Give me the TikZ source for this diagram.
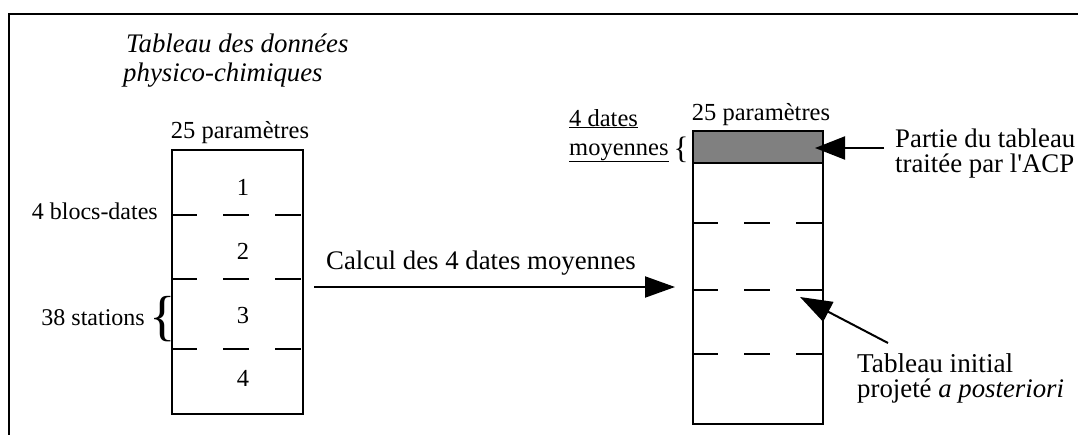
\documentclass[tikz,border=0pt]{standalone}
\usepackage{fontspec}
\setmainfont{Liberation Serif}
\usetikzlibrary{arrows.meta}
\begin{document}
\begin{tikzpicture}[x=1pt,y=-1pt,
  lbl/.style={inner sep=0pt, font=\fontsize{26.8}{30}\selectfont},
  small/.style={inner sep=0pt, font=\fontsize{24.5}{30}\selectfont},
  tbl/.style={draw, line width=2pt, inner sep=0pt},
  sep/.style={line width=2pt, dash pattern=on 26pt off 26pt},
  arr/.style={line width=2pt, -{Triangle[length=30pt,width=21pt]}},
  brace/.style={inner sep=0pt},
]
\useasboundingbox (0,0) rectangle (1078,434);
% frame (cropped)
\draw[line width=2.5pt] (9,440) -- (9,14) -- (1085,14);

% title
\node[lbl, anchor=base west, font=\fontsize{26.8}{30}\selectfont\itshape] (t1) at (126,52) {Tableau des données};
\node[lbl, anchor=base west, font=\fontsize{26.8}{30}\selectfont\itshape] (t2) at (123,81) {physico-chimiques};

% left table
\node[tbl, minimum width=131pt, minimum height=264pt] (L) at (237.5,282) {};
\node[small, anchor=base] (pL) at (240,138) {25 paramètres};
\draw[sep] (L.west |- 0,215) -- (L.east |- 0,215);
\draw[sep] (L.west |- 0,279) -- (L.east |- 0,279);
\draw[sep] (L.west |- 0,349) -- (L.east |- 0,349);
\node[small, anchor=base] (n1) at (243,195) {1};
\node[small, anchor=base] (n2) at (243,259) {2};
\node[small, anchor=base] (n3) at (243,323) {3};
\node[small, anchor=base] (n4) at (243,386) {4};
\node[small, anchor=base east, font=\fontsize{24}{30}\selectfont] (blocs) at (158,219) {4 blocs-dates};
\node[small, anchor=base east, font=\fontsize{24}{30}\selectfont] (stations) at (145,325) {38 stations};
\node[brace, font=\fontsize{55}{55}\selectfont] (bL) at (163,319) {\{};

% arrow between tables
\coordinate (a1) at (314,287);
\coordinate (a2) at (675,287);
\draw[arr] (a1) -- (a2);
\node[lbl, anchor=base west] (calc) at (326,269) {Calcul des 4 dates moyennes};

% right table
\fill[black!50] (693,131) rectangle (823,163);
\node[tbl, minimum width=130pt, minimum height=293pt] (R) at (758,277.5) {};
\draw[line width=2pt] (R.west |- 0,163) -- (R.east |- 0,163);
\draw[sep] (R.west |- 0,223) -- (R.east |- 0,223);
\draw[sep] (R.west |- 0,290) -- (R.east |- 0,290);
\draw[sep] (R.west |- 0,354) -- (R.east |- 0,354);
\node[small, anchor=base] (pR) at (761,120) {25 paramètres};
\node[small, anchor=base west] (d1) at (569,126) {\underline{4 dates}};
\node[small, anchor=base west] (d2) at (569,155) {\underline{moyennes}};
\node[brace, font=\fontsize{31}{31}\selectfont] (bR) at (681,150) {\{};

% annotations right
\node[lbl, anchor=base west] (p1) at (895,147) {Partie du tableau};
\node[lbl, anchor=base west] (p2) at (895,172) {traitée par l\textquotesingle ACP};
\coordinate (b1) at (884,148);
\coordinate (b2) at (815,148);
\draw[line width=2pt, -{Triangle[length=30pt,width=23pt]}] (b1) -- (b2);

\node[lbl, anchor=base west, font=\fontsize{27.2}{30}\selectfont] (q1) at (857,372) {Tableau initial};
\node[lbl, anchor=base west] (q2) at (857,397) {projeté \textit{a posteriori}};
\coordinate (c1) at (888,343);
\coordinate (c2) at (800,297);
\draw[line width=2pt, -{Triangle[length=32pt,width=22pt]}] (c1) -- (c2);
\end{tikzpicture}
\end{document}
